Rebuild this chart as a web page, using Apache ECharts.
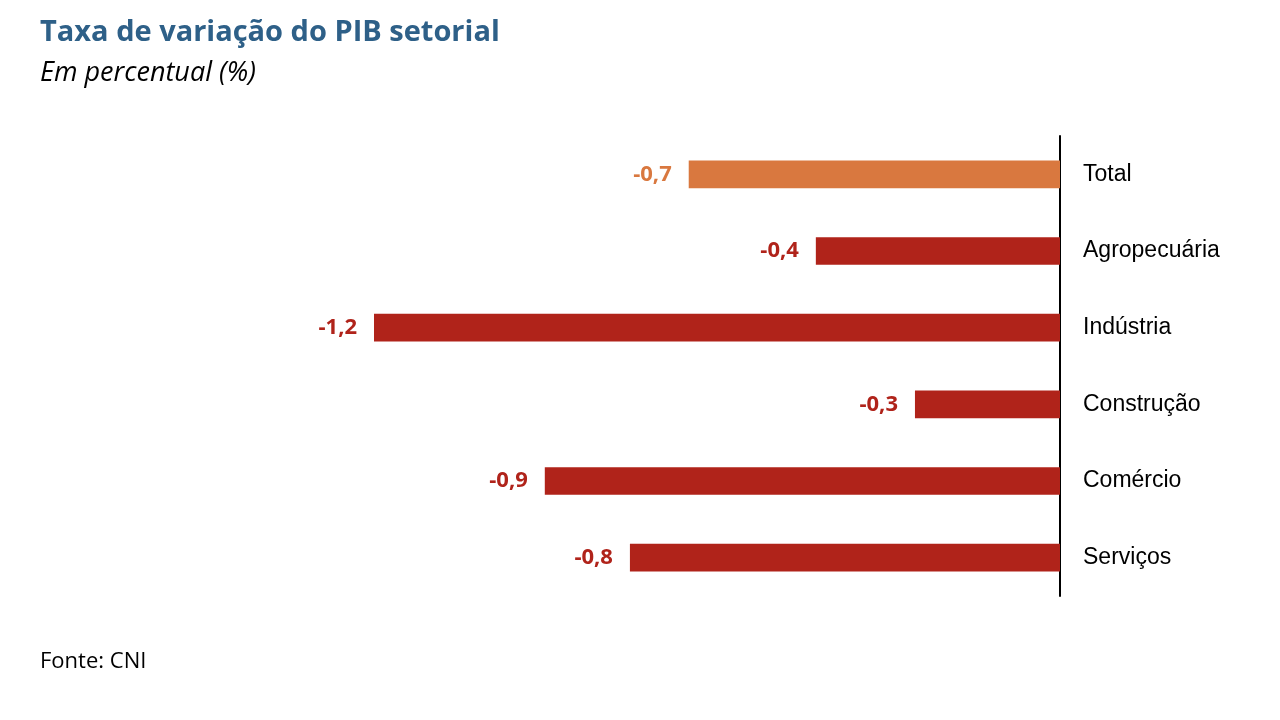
<!DOCTYPE html>
<html>
<head>
<meta charset="utf-8">
<script src="https://cdn.jsdelivr.net/npm/echarts@6/dist/echarts.min.js"></script>
<style>html,body{margin:0;padding:0;background:#fff;}#chart{width:1280px;height:720px;}</style>
</head>
<body>
<div id="chart"></div>
<script>
const categories = ['Total', 'Agropecuária', 'Indústria', 'Construção', 'Comércio', 'Serviços'];
const values = [-0.663, -0.436, -1.225, -0.259, -0.92, -0.768];
const barColors = ['#D9783F', '#B0231A', '#B0231A', '#B0231A', '#B0231A', '#B0231A'];

const chart = echarts.init(document.getElementById('chart'));
chart.setOption({
  backgroundColor: '#ffffff',
  animation: false,
  title: [
    { text: 'Taxa de variação do PIB setorial', left: 40, top: 18, padding: 0,
      textStyle: { fontFamily: 'Open Sans', fontWeight: 700, fontSize: 29, color: '#2E6088' } },
    { text: 'Em percentual (%)', left: 40, top: 60, padding: 0,
      textStyle: { fontFamily: 'Open Sans', fontStyle: 'italic', fontWeight: 400, fontSize: 27, color: '#000' } },
    { text: 'Fonte: CNI', left: 40, top: 651, padding: 0,
      textStyle: { fontFamily: 'Open Sans', fontWeight: 400, fontSize: 22, color: '#000' } }
  ],
  grid: { left: 276, right: 220, top: 136, bottom: 124 },
  xAxis: {
    type: 'value', min: -1.4, max: 0,
    axisLine: { show: false }, axisTick: { show: false },
    axisLabel: { show: false }, splitLine: { show: false }
  },
  yAxis: {
    type: 'category', data: categories, inverse: true, position: 'right',
    axisLine: { show: true, onZero: false, lineStyle: { color: '#000', width: 2 } },
    axisTick: { show: false },
    axisLabel: { margin: 23, fontFamily: 'Liberation Sans', fontSize: 23, color: '#000' }
  },
  series: [{
    type: 'bar',
    barWidth: '36%',
    data: values.map((v, i) => ({ value: v, itemStyle: { color: barColors[i] },
      label: { color: barColors[i] } })),
    label: {
      show: true, position: 'left', distance: 17,
      fontFamily: 'Open Sans', fontWeight: 700, fontSize: 22,
      formatter: p => p.value.toFixed(1).replace('.', ',')
    }
  }]
});
</script>
</body>
</html>
